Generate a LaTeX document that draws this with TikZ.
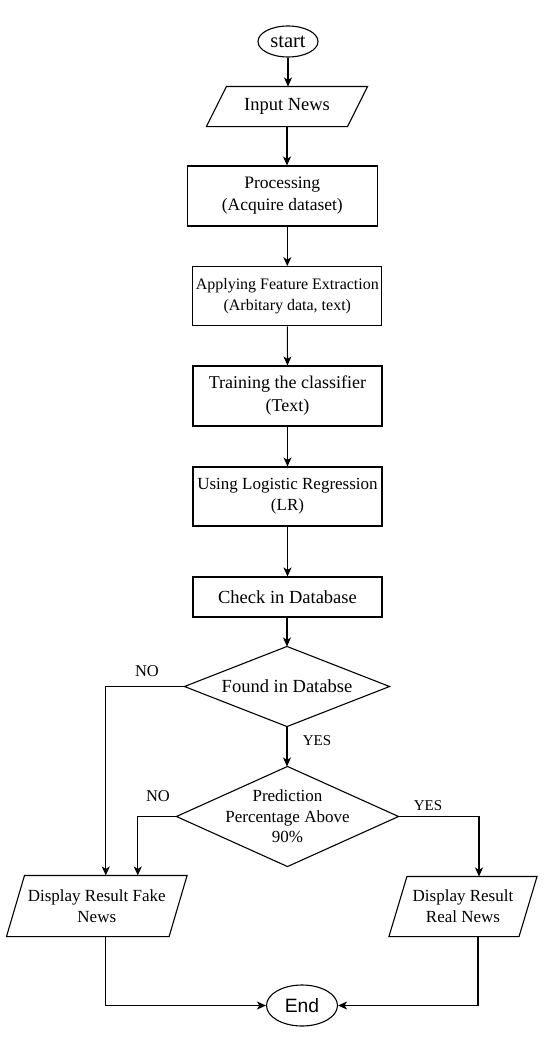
\documentclass[tikz,border=0pt]{standalone}
\usepackage{fontspec}
\setmainfont{Liberation Serif}
\newfontfamily\endfont{Liberation Sans}
\usetikzlibrary{arrows.meta,shapes.geometric}
\begin{document}
\begin{tikzpicture}[x=1pt,y=-1pt, line width=1.1pt,
  arr/.style={-{Stealth[length=9pt,width=8pt,inset=2.5pt]}},
  box/.style={draw, rectangle, align=center, inner sep=0pt},
  term/.style={draw, ellipse, inner sep=0pt},
  ghost/.style={rectangle, align=center, inner sep=0pt},
  lbl/.style={inner sep=0pt}
]
\useasboundingbox[fill=white] (0,0) rectangle (555,1055);

% terminals
\node[term, minimum width=60pt, minimum height=31pt, font=\fontsize{20.5}{24}\selectfont] (start) at (288,41.5) {start};
\node[term, minimum width=71pt, minimum height=41pt, font=\endfont\fontsize{19.3}{23}\selectfont] (end) at (302,1005.5) {End};

% input
\node[ghost, minimum width=140pt, minimum height=39pt, font=\fontsize{18.5}{22}\selectfont] (input) at (287,106.5) {Input News};
\draw ([xshift=10pt]input.north west) -- ([xshift=10pt]input.north east) -- ([xshift=-10pt]input.south east) -- ([xshift=-10pt]input.south west) -- cycle;

% process boxes
\node[box, minimum width=190pt, minimum height=60pt, font=\fontsize{17.5}{22}\selectfont] (proc) at (282.3,196) {Processing\\(Acquire dataset)};
\node[box, minimum width=189pt, minimum height=59pt, font=\fontsize{16}{21}\selectfont] (feat) at (287.3,296.2) {Applying Feature Extraction\\(Arbitary data, text)};
\node[box, minimum width=189pt, minimum height=60pt, font=\fontsize{18}{23}\selectfont] (train) at (287.5,396) {Training the classifier\\(Text)};
\node[box, minimum width=189pt, minimum height=59pt, font=\fontsize{17}{21}\selectfont] (logit) at (287.5,496.5) {Using Logistic Regression\\(LR)};
\node[box, minimum width=189pt, minimum height=40pt, font=\fontsize{18.5}{22}\selectfont] (check) at (287.5,597) {Check in Database};

% decisions
\node[ghost, minimum width=204pt, minimum height=79pt, font=\fontsize{18.5}{22}\selectfont] (d1) at (287,686.5) {Found in Databse};
\draw (d1.north) -- (d1.east) -- (d1.south) -- (d1.west) -- cycle;
\node[ghost, minimum width=221pt, minimum height=99pt, font=\fontsize{17}{20.5}\selectfont] (d2) at (287.5,816.5) {Prediction\\Percentage Above\\90\%};
\draw (d2.north) -- (d2.east) -- (d2.south) -- (d2.west) -- cycle;

% outputs
\node[ghost, minimum width=161.5pt, minimum height=60pt, font=\fontsize{17}{20.7}\selectfont] (fake) at (96.8,906) {Display Result Fake\\News};
\draw ([xshift=9pt]fake.north west) -- ([xshift=9pt]fake.north east) -- ([xshift=-9pt]fake.south east) -- ([xshift=-9pt]fake.south west) -- cycle;
\node[ghost, minimum width=129pt, minimum height=59pt, font=\fontsize{17}{20.7}\selectfont] (real) at (463,906.5) {Display Result\\Real News};
\draw ([xshift=9pt]real.north west) -- ([xshift=9pt]real.north east) -- ([xshift=-9pt]real.south east) -- ([xshift=-9pt]real.south west) -- cycle;

% labels
\node[lbl, font=\fontsize{16.5}{20}\selectfont] (no1) at (147,671) {NO};
\node[lbl, font=\fontsize{15}{18}\selectfont] (yes1) at (317,740.5) {YES};
\node[lbl, font=\fontsize{16.5}{20}\selectfont] (no2) at (158,796) {NO};
\node[lbl, font=\fontsize{15}{18}\selectfont] (yes2) at (428,806) {YES};

% connectors
\draw[arr] (start.south) -- (start.south |- input.north);
\draw[arr] (input.south) -- (input.south |- proc.north);
\draw[arr] (feat.north |- proc.south) -- (feat.north);
\draw[arr] (feat.south) -- (train.north);
\draw[arr] (train.south) -- (logit.north);
\draw[arr] (logit.south) -- (check.north);
\draw[arr] (check.south -| d1.north) -- (d1.north);
\draw[arr] (d1.south) -- (d1.south |- d2.north);
\draw[arr] (d1.west) -| ([xshift=9pt]fake.north);
\draw[arr] (d2.west) -| ([xshift=41pt]fake.north);
\draw[arr] (d2.east) -| ([xshift=16pt]real.north);
\draw[arr] ([xshift=9pt]fake.south) |- (end.west);
\draw[arr] ([xshift=15pt]real.south) |- (end.east);
\end{tikzpicture}
\end{document}
